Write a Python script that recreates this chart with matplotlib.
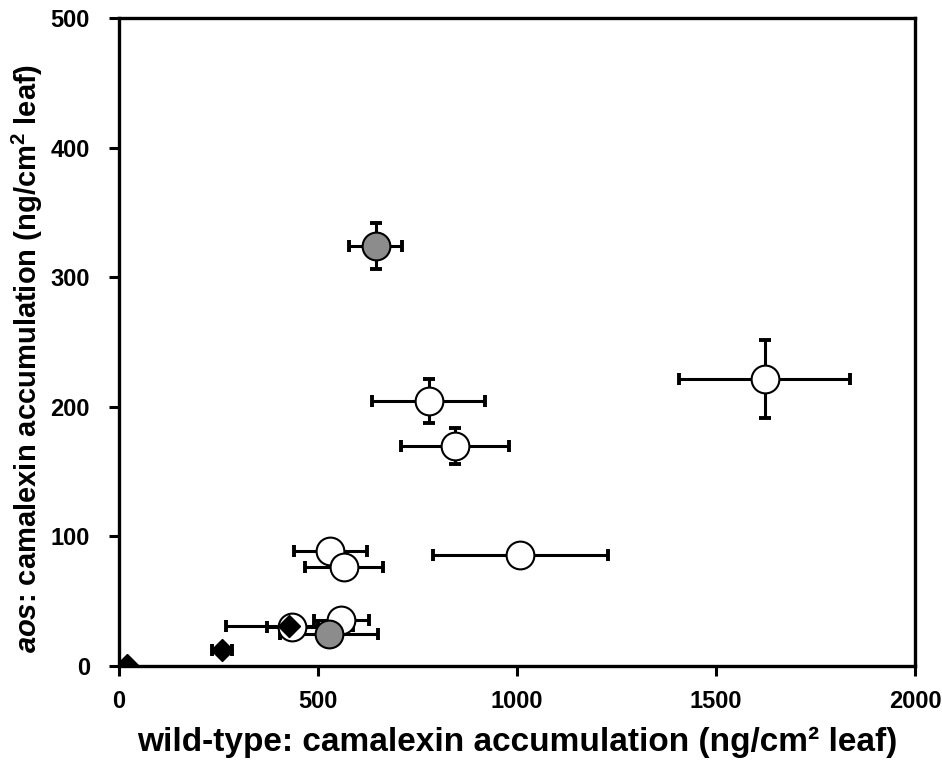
import numpy as np
from matplotlib import pyplot as plt
from matplotlib import rc

rc('font', family='Liberation Sans', weight='bold')
rc('axes', labelweight='bold')
rc('mathtext', fontset='custom', it='Liberation Sans:italic:bold',
   rm='Liberation Sans:bold', bf='Liberation Sans:bold')

# open circles
x_open = [1623, 778, 845, 1008, 531, 565, 558, 435]
xerr_open = [215, 141, 136, 220, 92, 98, 69, 64]
y_open = [221.5, 204.7, 170, 85.7, 88.4, 76.7, 35.4, 30.2]
yerr_open = [30, 17, 14, 0, 0, 0, 0, 0]

# grey circles
x_grey = [645, 528]
xerr_grey = [67, 124]
y_grey = [324, 25]
yerr_grey = [17.5, 0]

# black diamonds
x_dia = [428, 259, 20]
xerr_dia = [160, 26, 0]
y_dia = [30.7, 12, 1]

fig = plt.figure(figsize=(9.42, 7.71), dpi=100)
ax = fig.add_axes([0.1263, 0.1362, 0.8450, 0.8405])

eb = dict(fmt='none', ecolor='black', elinewidth=2.2, capsize=4, capthick=2.8, zorder=1)
ax.errorbar(x_open, y_open, xerr=xerr_open, yerr=yerr_open, **eb)
ax.errorbar(x_grey, y_grey, xerr=xerr_grey, yerr=yerr_grey, **eb)
ax.errorbar(x_dia, y_dia, xerr=xerr_dia, **eb)

ax.plot(x_open, y_open, 'o', ms=20, mfc='white', mec='black', mew=1.5, zorder=3)
ax.plot(x_grey, y_grey, 'o', ms=20, mfc='#8c8c8c', mec='black', mew=1.5, zorder=4)
ax.plot(x_dia, y_dia, 'D', ms=11, mfc='black', mec='black', zorder=5)

ax.set_xlim(0, 2000)
ax.set_ylim(0, 500)
ax.set_xticks([0, 500, 1000, 1500, 2000])
ax.set_yticks([0, 100, 200, 300, 400, 500])
for s in ax.spines.values():
    s.set_linewidth(2.4)
ax.tick_params(direction='out', length=7, width=2.2, labelsize=17)
ax.tick_params(axis='y', pad=14)
ax.tick_params(axis='x', pad=10)

ax.set_xlabel('wild-type: camalexin accumulation (ng/cm\u00b2 leaf)', fontsize=24, labelpad=10)
ax.set_ylabel(r'$aos$: camalexin accumulation (ng/cm$^2$ leaf)', fontsize=21)
ax.yaxis.set_label_coords(-0.093, 0.475)

fig.savefig('out.png', dpi=100)
